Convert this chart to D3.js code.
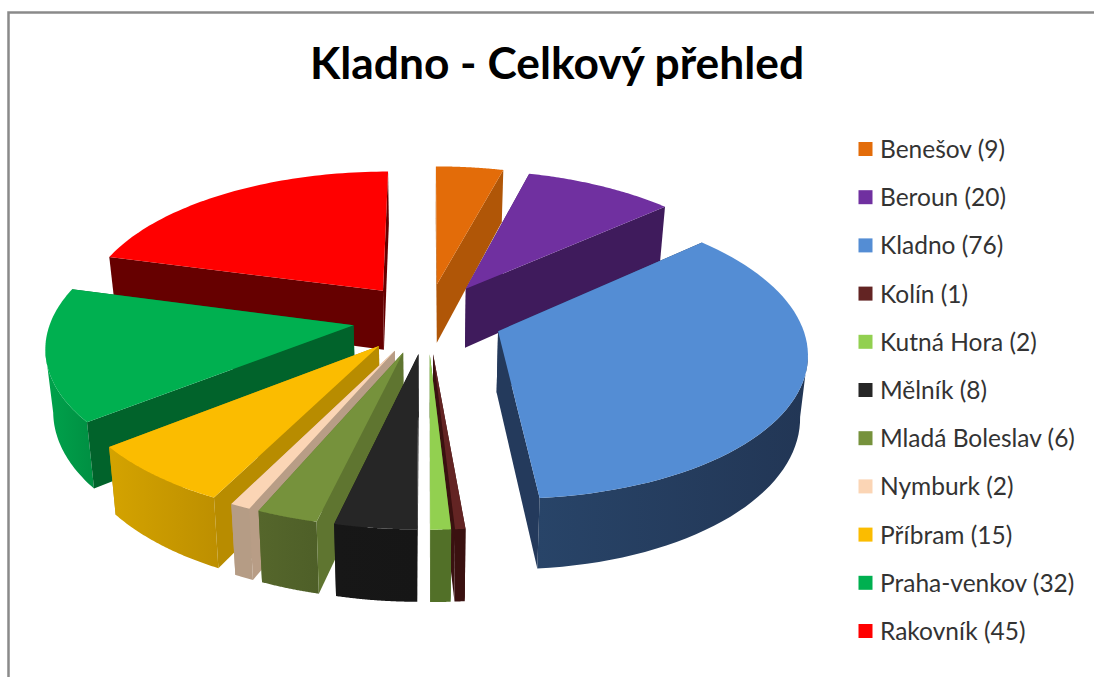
<!DOCTYPE html>
<html>
<head>
  <meta charset="UTF-8">
  <title>Kladno - Celkový přehled</title>
  <style>
    body { margin: 0; padding: 0; background: #fff; }
    svg { display: block; }
    text { font-family: Lato, "Open Sans", sans-serif; }
  </style>
</head>
<body>
  <svg></svg>

  <script src="https://d3js.org/d3.v7.min.js"></script>
  <script>
    let categories = ["Benešov", "Beroun", "Kladno", "Kolín", "Kutná Hora", "Mělník", "Mladá Boleslav", "Nymburk", "Příbram", "Praha-venkov", "Rakovník"];
    let values = [9, 20, 76, 1, 2, 8, 6, 2, 15, 32, 45];
    let topColors = ["#E36C09", "#7030A0", "#548DD4", "#632423", "#92D050", "#262626", "#76923C", "#FBD5B5", "#FBBC00", "#00B050", "#FF0000"];
    let sideColors = ["#B05607", "#3F1B5C", "#243A5C", "#3A1110", "#527028", "#1A1A1A", "#5F7530", "#B89D86", "#B88C00", "#01632B", "#660000"];
    let arcLeftColors = ["#B05607", "#3F1B5C", "#284468", "#3A1110", "#527028", "#171717", "#55662B", "#B59C85", "#D4A300", "#00A34C", "#660000"];
    let arcRightColors = ["#B05607", "#3F1B5C", "#223655", "#3A1110", "#527028", "#161616", "#4E5F28", "#B59C85", "#BD8F00", "#008F42", "#660000"];

    let width = 1094, height = 677;

    // pie geometry in page units, tuned against the picture
    let cx = 427.5, cy = 318;
    let radius = 302, explode = 75, thick = 60.5;
    let squash = 0.469, persp = 0.000437, taper = 0.021;

    let svg = d3.select("svg").attr("width", width).attr("height", height);
    let defs = svg.append("defs");

    // frame, open to the right and bottom
    svg.append("rect")
        .attr("x", 8.5).attr("y", 12.5)
        .attr("width", width + 20).attr("height", height + 20)
        .attr("fill", "#fff")
        .attr("stroke", "#8A8A8A")
        .attr("stroke-width", 2.5);

    svg.append("text")
        .attr("x", 557).attr("y", 79)
        .attr("text-anchor", "middle")
        .attr("font-weight", 700)
        .attr("font-size", 44.3)
        .attr("fill", "#000")
        .text("Kladno - Celkový přehled");

    // angle is clockwise from the top, t = 0 top face, t = 1 bottom face
    function project(d, angle, r, t) {
      let X = r * Math.sin(angle) + explode * Math.sin(d.mid);
      let Y = r * Math.cos(angle) + explode * Math.cos(d.mid);
      let w = 1 + persp * Y;
      return [
        cx + X / (w * (1 + taper * t)),
        cy - squash * Y / w + t * thick / w
      ];
    }

    let slices = d3.pie().sort(null).startAngle(0).endAngle(2 * Math.PI)(values);
    slices.forEach((d, i) => {
      d.i = i;
      d.mid = (d.startAngle + d.endAngle) / 2;
      d.steps = d3.range(0, 61).map(k => d.startAngle + (d.endAngle - d.startAngle) * k / 60);
    });

    let line = d3.line();
    let path = pts => line(pts) + "Z";

    function wallPath(d, a, b) {
      return path([project(d, a[0], a[1], 0), project(d, b[0], b[1], 0),
                   project(d, b[0], b[1], 1), project(d, a[0], a[1], 1)]);
    }

    let groups = svg.append("g").selectAll("g")
        .data(slices.slice().sort((a, b) => d3.descending(Math.cos(a.mid), Math.cos(b.mid))))
        .enter()
        .append("g");

    groups.each(function(d) {
      let g = d3.select(this);
      let apex = [d.startAngle, 0];
      let start = [d.startAngle, radius];
      let end = [d.endAngle, radius];

      // polygon runs apex -> start -> arc -> end -> apex, an edge faces the viewer when it runs left
      let runsLeft = (a, b) => project(d, b[0], b[1], 0)[0] < project(d, a[0], a[1], 0)[0];
      let walls = [[apex, start], [end, apex]];

      walls.filter(w => !runsLeft(w[0], w[1])).forEach(w => {
        g.append("path").attr("d", wallPath(d, w[0], w[1])).attr("fill", sideColors[d.i]);
      });

      let visible = d.steps.filter((a, k) => {
        let next = d.steps[k + 1], prev = d.steps[k - 1];
        return (next !== undefined && runsLeft([a, radius], [next, radius])) ||
               (prev !== undefined && runsLeft([prev, radius], [a, radius]));
      });
      if (visible.length > 1) {
        let upper = visible.map(a => project(d, a, radius, 0));
        let lower = visible.map(a => project(d, a, radius, 1)).reverse();
        let xs = upper.concat(lower).map(p => p[0]);
        let id = "arc" + d.i;
        let grad = defs.append("linearGradient").attr("id", id)
            .attr("gradientUnits", "userSpaceOnUse")
            .attr("x1", d3.min(xs)).attr("x2", d3.max(xs)).attr("y1", 0).attr("y2", 0);
        grad.append("stop").attr("offset", 0).attr("stop-color", arcLeftColors[d.i]);
        grad.append("stop").attr("offset", 1).attr("stop-color", arcRightColors[d.i]);
        g.append("path").attr("d", path(upper.concat(lower))).attr("fill", "url(#" + id + ")");
      }

      walls.filter(w => runsLeft(w[0], w[1])).forEach(w => {
        g.append("path").attr("d", wallPath(d, w[0], w[1])).attr("fill", sideColors[d.i]);
      });

      let topFace = [project(d, d.startAngle, 0, 0)].concat(d.steps.map(a => project(d, a, radius, 0)));
      g.append("path").attr("d", path(topFace)).attr("fill", topColors[d.i]);
    });

    // legend
    let legendY = d3.scalePoint().domain(categories).range([149, 631]);

    let legend = svg.append("g").selectAll("g")
        .data(categories)
        .enter()
        .append("g")
        .attr("transform", d => "translate(0," + legendY(d) + ")");

    legend.append("rect")
        .attr("x", 858.5).attr("y", -7)
        .attr("width", 14).attr("height", 14)
        .attr("fill", (d, i) => topColors[i]);

    legend.append("text")
        .attr("x", 880).attr("y", 9)
        .attr("font-size", 24.5)
        .attr("fill", "#333")
        .text((d, i) => d + " (" + values[i] + ")");
  </script>
</body>
</html>
